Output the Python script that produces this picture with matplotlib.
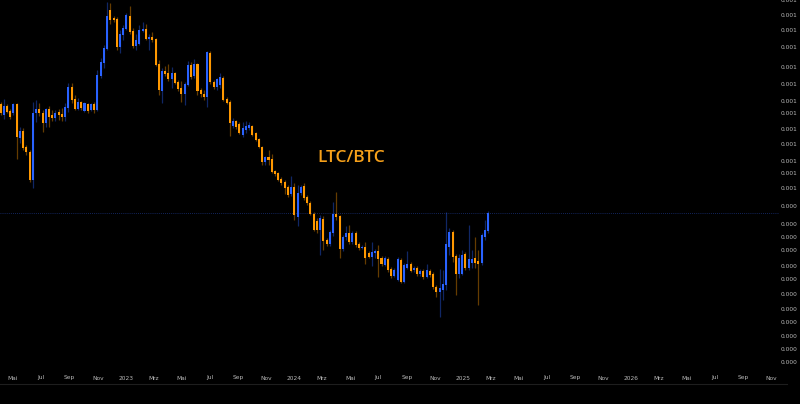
"""LTC/BTC weekly candles, dark style (TradingView-like)."""
import numpy as np
import pandas as pd
import matplotlib
matplotlib.use('Agg')
import matplotlib.pyplot as plt
import matplotlib.dates as mdates
from matplotlib.transforms import blended_transform_factory

# weekly OHLC, LTC/BTC in units of 1e-4 BTC
START = '2022-04-04'
open_ = [26.83, 25.13, 26.52, 25.74, 25.43, 26.83, 21.91, 22.84, 20.77, 20.16,
         17.06, 25.43, 26.05, 25.43, 23.96, 26.05, 25.13, 24.69, 25.58, 25.28,
         24.83, 26.20, 29.70, 27.65, 26.05, 27.16, 25.74, 26.83, 25.89, 26.83,
         25.89, 31.72, 34.27, 37.26, 47.00, 44.81, 44.55, 37.71, 40.50, 41.97,
         45.35, 41.47, 37.93, 38.39, 41.47, 41.97, 39.54, 40.02, 39.54, 34.06,
         29.00, 32.68, 32.29, 31.15, 32.29, 30.59, 29.52, 28.48, 30.05, 33.86,
         31.72, 34.06, 29.17, 28.48, 27.98, 36.38, 30.59, 29.70, 30.05, 31.34,
         27.65, 27.16, 23.53, 24.25, 23.82, 22.31, 22.98, 23.26, 23.53, 22.58,
         21.78, 20.77, 18.99, 19.57, 19.34, 17.99, 17.78, 17.16, 16.86, 16.36,
         15.69, 16.36, 13.68, 15.79, 16.46, 15.41, 14.87, 13.93, 13.36, 12.66,
         13.52, 11.93, 11.65, 12.44, 13.93, 13.76, 11.31, 12.14, 12.44, 11.79,
         12.44, 11.65, 11.38, 11.44, 11.04, 10.78, 11.04, 11.17, 10.72, 10.28,
         10.65, 10.04, 9.62, 9.40, 10.59, 9.29, 10.10, 10.34, 9.97, 10.10,
         9.74, 9.91, 9.56, 9.91, 9.74, 9.02, 8.75, 8.85, 9.12, 11.44,
         12.51, 10.85, 9.74, 9.74, 10.98, 10.10, 10.40, 10.72, 10.53, 10.40,
         12.14, 12.59]
high = [27.16, 27.65, 26.83, 26.05, 27.00, 27.00, 23.39, 23.26, 21.02, 20.40,
        27.16, 27.48, 27.00, 25.89, 26.20, 26.52, 25.89, 25.89, 26.05, 26.20,
        27.00, 30.41, 30.41, 28.32, 27.81, 27.32, 27.16, 27.00, 27.00, 27.16,
        32.87, 35.31, 38.16, 49.30, 49.01, 45.35, 45.08, 41.72, 42.98, 46.17,
        48.14, 42.22, 40.74, 42.98, 43.76, 43.24, 40.74, 41.23, 39.78, 34.88,
        33.26, 33.66, 34.06, 33.46, 32.48, 30.96, 30.78, 30.59, 34.67, 34.47,
        35.10, 34.27, 29.52, 29.17, 36.81, 36.81, 30.96, 31.34, 32.29, 31.72,
        27.98, 27.48, 24.69, 24.39, 24.10, 24.10, 24.25, 24.10, 23.68, 22.71,
        21.91, 20.89, 19.68, 20.40, 19.92, 18.10, 17.89, 17.36, 17.06, 16.56,
        17.46, 16.76, 16.56, 16.56, 16.76, 15.60, 15.05, 14.09, 13.60, 13.84,
        13.76, 12.07, 12.66, 14.96, 15.88, 13.84, 12.29, 12.97, 13.05, 12.59,
        12.59, 11.79, 11.58, 11.79, 11.17, 11.79, 11.31, 11.58, 10.85, 10.85,
        10.78, 10.16, 10.10, 10.78, 10.72, 10.40, 11.17, 10.47, 10.22, 10.22,
        10.04, 10.04, 10.34, 10.04, 9.85, 9.12, 10.04, 9.97, 14.09, 12.82,
        12.66, 10.98, 10.98, 11.24, 11.11, 13.05, 11.24, 12.14, 11.24, 12.44,
        13.44, 14.18]
low = [25.13, 24.54, 25.43, 24.54, 25.13, 19.34, 21.27, 20.40, 19.80, 16.86,
       16.27, 24.10, 24.98, 22.71, 23.39, 23.39, 24.25, 24.25, 24.39, 24.25,
       24.25, 25.58, 27.00, 25.89, 25.89, 25.89, 25.58, 25.43, 25.74, 25.43,
       25.74, 31.34, 33.26, 37.03, 43.24, 43.76, 37.03, 36.38, 39.31, 41.72,
       40.74, 37.48, 37.03, 38.16, 41.23, 39.31, 37.03, 38.85, 33.66, 28.32,
       27.00, 31.72, 30.78, 29.52, 30.23, 29.00, 27.16, 26.67, 29.87, 31.15,
       31.34, 28.32, 27.98, 27.48, 26.36, 30.23, 29.34, 29.17, 29.52, 27.32,
       26.83, 22.17, 23.26, 23.12, 22.44, 22.04, 22.58, 22.98, 22.17, 21.52,
       20.64, 18.66, 18.66, 18.66, 17.78, 17.46, 16.96, 16.56, 15.69, 15.41,
       15.51, 13.44, 12.97, 15.60, 15.14, 14.70, 13.84, 12.59, 12.44, 10.91,
       11.24, 11.51, 11.51, 12.22, 13.44, 10.72, 11.17, 11.93, 11.65, 11.65,
       11.44, 11.24, 11.31, 10.34, 10.72, 10.22, 10.72, 9.56, 10.22, 10.22,
       9.85, 9.51, 9.56, 9.34, 9.23, 9.23, 10.04, 9.85, 9.85, 9.62,
       9.62, 9.45, 9.51, 9.56, 8.91, 8.49, 7.54, 8.34, 8.85, 10.91,
       10.47, 8.59, 9.51, 9.68, 9.97, 9.97, 10.10, 10.10, 8.10, 10.28,
       11.93, 12.44]
close = [25.43, 26.52, 25.58, 24.83, 26.83, 22.04, 22.84, 20.64, 20.16, 17.06,
         25.43, 26.05, 25.43, 23.96, 26.05, 24.83, 24.69, 25.43, 25.13, 24.83,
         26.36, 29.70, 27.48, 26.05, 27.16, 26.20, 27.00, 25.74, 26.83, 25.89,
         31.91, 34.47, 37.48, 45.35, 44.28, 44.28, 37.71, 40.74, 42.22, 45.62,
         41.23, 37.93, 39.31, 41.72, 41.97, 39.54, 40.02, 39.31, 33.86, 29.17,
         32.68, 32.10, 31.15, 32.29, 30.41, 29.34, 28.48, 30.23, 33.86, 31.53,
         34.06, 29.00, 28.48, 27.98, 36.59, 30.59, 29.70, 31.15, 31.53, 27.48,
         27.00, 23.96, 24.25, 23.39, 22.58, 23.26, 23.53, 23.68, 22.31, 21.65,
         20.77, 18.99, 19.57, 19.22, 17.89, 17.67, 17.06, 16.76, 16.27, 15.60,
         16.36, 13.84, 15.79, 16.36, 15.32, 14.87, 13.93, 12.66, 12.66, 13.60,
         11.86, 11.65, 12.51, 13.93, 13.68, 11.31, 12.14, 12.44, 11.79, 12.44,
         11.58, 11.38, 11.44, 10.72, 10.78, 11.11, 11.17, 10.65, 10.34, 10.72,
         9.97, 9.62, 9.97, 10.65, 9.29, 10.28, 10.34, 9.91, 10.10, 9.74,
         9.91, 9.56, 9.97, 9.68, 9.02, 8.75, 8.96, 9.18, 11.65, 12.51,
         10.78, 9.74, 10.72, 10.91, 10.10, 10.65, 10.65, 10.40, 10.34, 12.29,
         12.66, 14.01]

# x-axis labels (German month abbreviations)
xtick_dates = ['2022-05-01', '2022-07-01', '2022-09-01', '2022-11-01', '2023-01-01',
               '2023-03-01', '2023-05-01', '2023-07-01', '2023-09-01', '2023-11-01',
               '2024-01-01', '2024-03-01', '2024-05-01', '2024-07-01', '2024-09-01',
               '2024-11-01', '2025-01-01', '2025-03-01', '2025-05-01', '2025-07-01',
               '2025-09-01', '2025-11-01', '2026-01-01', '2026-03-01', '2026-05-01',
               '2026-07-01', '2026-09-01', '2026-11-01']
xtick_labels = ['Mai', 'Jul', 'Sep', 'Nov', '2023', 'Mrz', 'Mai', 'Jul', 'Sep', 'Nov',
                '2024', 'Mrz', 'Mai', 'Jul', 'Sep', 'Nov', '2025', 'Mrz', 'Mai', 'Jul',
                'Sep', 'Nov', '2026', 'Mrz', 'Mai', 'Jul', 'Sep', 'Nov']

# price-scale ticks (in BTC) and their (truncated) labels as shown
ytick_vals = [0.00496, 0.00456, 0.00415, 0.00375, 0.00333, 0.00302, 0.00273,
              0.00253, 0.00231, 0.00211, 0.00191, 0.00177, 0.00162, 0.00146,
              0.00131, 0.00121, 0.00112, 0.00102, 0.000945, 0.000864, 0.00079,
              0.000731, 0.000673, 0.000622, 0.000576]
ytick_labels = ['0.001'] * 13 + ['0.000'] * 12

UP = '#2962FF'
DOWN = '#FF9800'
BG = '#000000'

o = np.array(open_) * 1e-4
h = np.array(high) * 1e-4
l = np.array(low) * 1e-4
c = np.array(close) * 1e-4
dates = pd.date_range(START, periods=len(c), freq='7D')
x = mdates.date2num(dates)

fig = plt.figure(figsize=(8, 4.04), dpi=100, facecolor=BG)
ax = fig.add_axes([0, 0, 1, 1], facecolor=BG)
ax.set_yscale('log')

colors = [UP if cc >= oo else DOWN for oo, cc in zip(o, c)]
ax.vlines(x, l, h, colors=colors, linewidth=0.9, alpha=0.4, zorder=2)
ax.bar(x, np.abs(c - o), bottom=np.minimum(o, c), width=4.4,
       color=colors, linewidth=0, zorder=3)

# last price line
ax.axhline(c[-1], xmax=0.972, color='#1f3d99', linewidth=0.6,
           linestyle=(0, (1, 1.5)), alpha=0.8, zorder=1)

t0 = mdates.date2num(pd.Timestamp('2023-01-01'))
ax.set_xlim(t0 - 273.2, t0 + 1461.4)
ax.set_ylim(4.494e-4, 4.989e-3)
ax.set_xticks([])
ax.set_yticks([])
ax.minorticks_off()
for s in ax.spines.values():
    s.set_visible(False)

# bottom separator and time-axis labels
ax.plot([0, 0.984], [1 - 384 / 404] * 2, transform=ax.transAxes,
        color='#1e1e1e', linewidth=0.8)
trx = blended_transform_factory(ax.transData, ax.transAxes)
for d, lab in zip(xtick_dates, xtick_labels):
    ax.text(mdates.date2num(pd.Timestamp(d)), 1 - 378 / 404, lab, transform=trx,
            ha='center', va='center', fontsize=4.2, color='#b8b8b8')

# price-scale labels on the right
try_ = blended_transform_factory(ax.transAxes, ax.transData)
for v, lab in zip(ytick_vals, ytick_labels):
    ax.text(0.997, v, lab, transform=try_, ha='right', va='center',
            fontsize=4.2, color='#b8b8b8')

ax.text(0.439, 1 - 158 / 404, 'LTC/BTC', transform=ax.transAxes,
        ha='center', va='center', fontsize=12.5, color='#F7A11A',
        family=['Open Sans', 'DejaVu Sans'], fontweight='semibold')

fig.savefig('out.png', dpi=100, facecolor=BG)
